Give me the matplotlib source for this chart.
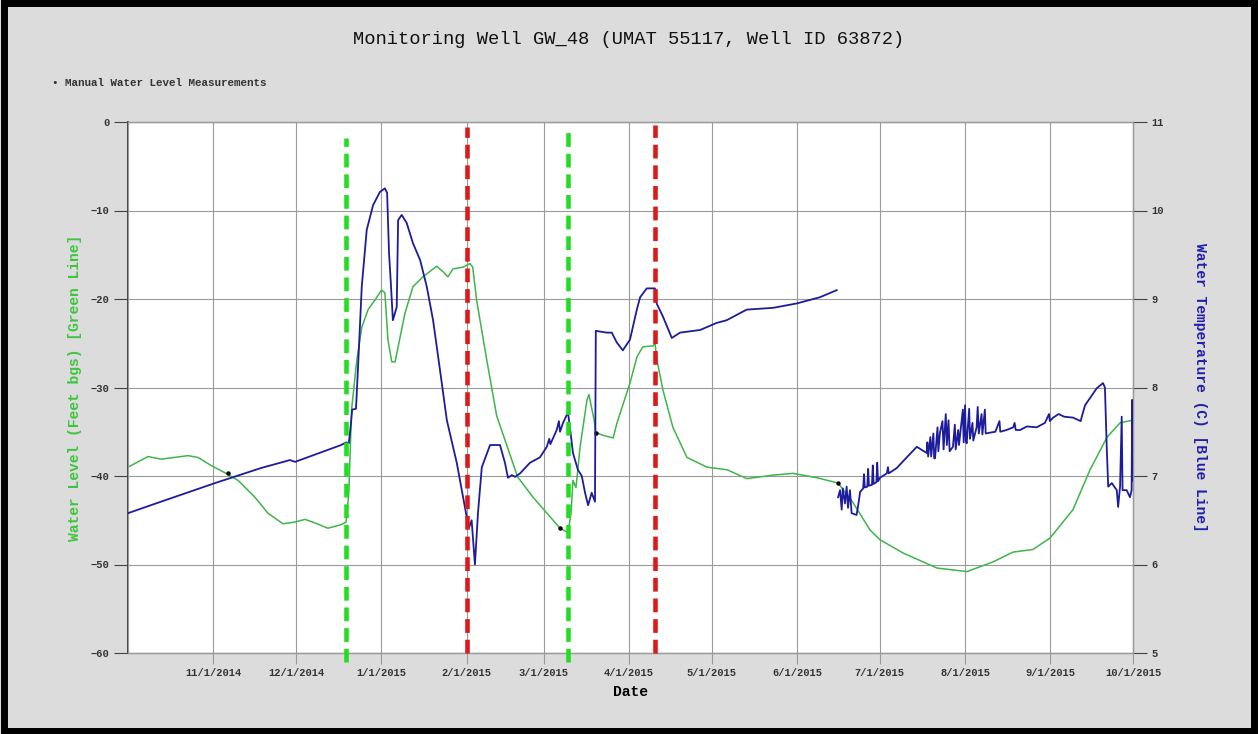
import matplotlib

matplotlib.use("Agg")
import matplotlib.pyplot as plt  # noqa: E402
import matplotlib.patches as mpatches  # noqa: E402
import numpy as np  # noqa: E402
import pandas as pd  # noqa: E402

START = pd.Timestamp("2014-10-01")

# water level (feet bgs), days since 10/1/2014
wl_days = [0, 7.3, 12, 21.8, 25.4, 30.1, 35.6, 40, 46.1, 50.8, 56.3, 60.7, 64.3, 67.9,
           72.6, 77.4, 79.2, 80.2, 81.2, 83.1, 84.9, 87.2, 89.7, 92.1, 93.3, 94.4, 95.8,
           97, 98.1, 100.6, 103.5, 107.1, 112.1, 114.4, 116.2, 118, 121.7, 124.2, 125.2,
           126.6, 130.3, 133.9, 141.5, 147.1, 156.9, 159.8, 160.9, 161.6, 162.7, 164.2,
           166.7, 167.4, 169.3, 169.9, 172.5, 176.2, 177.6, 182.3, 184.9, 187, 190.7,
           191.4, 192.1, 194.3, 197.9, 203, 210.3, 217.6, 224.8, 234.3, 241.5, 250.3,
           257.9, 263.3, 269.5, 273.1, 281.5, 293.8, 304.7, 314.2, 321.4, 328.7, 334.9,
           343.2, 349.4, 355.6, 360.3, 364.7]
wl_vals = [-39.0, -37.8, -38.1, -37.7, -37.9, -38.8, -39.7, -40.5, -42.4, -44.2, -45.4,
           -45.2, -44.9, -45.3, -45.9, -45.5, -45.2, -41.9, -32.5, -26.9, -23.2, -21.2,
           -20.1, -19.0, -19.3, -24.6, -27.1, -27.1, -25.4, -21.6, -18.6, -17.5, -16.3,
           -16.9, -17.5, -16.6, -16.4, -16.0, -16.4, -20.1, -26.9, -33.2, -40.1, -42.4,
           -45.9, -46.4, -44.2, -40.5, -41.3, -36.7, -31.4, -30.8, -33.7, -35.1, -35.4,
           -35.7, -34.0, -29.5, -26.5, -25.4, -25.3, -25.0, -26.9, -30.3, -34.5, -37.9,
           -39.0, -39.3, -40.3, -39.9, -39.7, -40.2, -40.8, -43.0, -46.1, -47.2, -48.7,
           -50.4, -50.8, -49.7, -48.6, -48.3, -47.0, -43.8, -39.3, -35.6, -34.0, -33.7]

# manual water level measurements
man_days = [36.3, 156.9, 170.0, 257.9]
man_vals = [-39.7, -45.9, -35.1, -40.8]

# water temperature (C), days since 10/1/2014 (NaN = data gap)
wt_days = [0, 12, 31.6, 48.3, 58.8, 60.7, 77.4, 79.2, 80.2, 81, 81.4, 82.8, 83.5, 84.9,
           86.7, 89, 91.5, 93.3, 94.1, 94.8, 95.4, 96.2, 97.6, 98.1, 99.4, 101.2, 103.5,
           106.1, 108.5, 110.8, 113.3, 115.8, 119.4, 123, 123.9, 124.8, 126, 127.1, 128.5,
           131.5, 135.1, 136.9, 138, 139.4, 140.6, 142.4, 146, 149.6, 152.1, 153.0, 153.4,
           155.7, 156.5, 156.9, 158, 159.8, 160.5, 161.6, 163.4, 164.8, 166, 167.1, 168.4,
           169.6, 169.9, 173.9, 175.7, 177.5, 179.7, 182.3, 184.8, 186, 188.4, 191.4, 192,
           194.3, 197.5, 200.5, 207.8, 213.8, 217.4, 224.7, 234.3, 242.9, 251.3, 257.4,
           257.6,
           257.9, 258.6, 259.2, 259.6, 260.4, 261.0, 261.5, 262.2, 262.8, 264.6, 265.1,
           265.9, 267.0, 267.3, 267.6, 268.5, 268.8, 269.1, 270.2, 270.5, 270.8, 271.8,
           272.1, 272.4, 273.1, 275.6, 276.0, 276.3, 279.2, 282.8, 286.5, 288.0, 290.1,
           290.3, 290.6, 291.4, 291.7, 292.5, 292.8, 293.1, 294.0, 294.3, 294.9, 295.8,
           296.2, 297.0, 297.4, 298.0, 298.4, 299.6, 300.3, 300.6, 301.5, 301.8, 303.2,
           303.5, 304.0, 304.3, 304.6, 305.5, 305.8, 306.7, 307.0, 308.2, 308.6, 309.0,
           310.0, 310.3, 311.2, 311.5, 313.1, 315.0, 316.5, 316.8, 319.1, 321.5, 322.0,
           322.4, 324.0, 326.5, 330.0, 333.0, 334.5, 334.8, 336.0, 338.0, 340.0, 343.2,
           346.0, 346.4, 347.6, 351.8, 354.1, 354.8, 355.5, 356.0, 357.3, 359.1, 359.6,
           360.3, 360.9, 361.2, 362.7, 363.9, 364.5, 364.7, 365.0]
wt_vals = [6.58, 6.71, 6.92, 7.09, 7.18, 7.16, 7.35, 7.38, 7.37, 7.60, 7.75, 7.76, 8.20,
           9.14, 9.78, 10.06, 10.21, 10.25, 10.20, 9.52, 9.21, 8.76, 8.91, 9.89, 9.95,
           9.86, 9.63, 9.44, 9.14, 8.76, 8.20, 7.63, 7.15, 6.54, 6.42, 6.50, 6.00, 6.58,
           7.10, 7.35, 7.35, 7.15, 6.98, 7.01, 6.99, 7.03, 7.15, 7.21, 7.33, 7.42, 7.36,
           7.52, 7.62, 7.50, 7.60, 7.72, 7.55, 7.26, 7.07, 7.00, 6.81, 6.67, 6.81, 6.71,
           8.64, 8.62, 8.62, 8.51, 8.42, 8.54, 8.88, 9.02, 9.12, 9.12, 8.95, 8.80, 8.56,
           8.62, 8.65, 8.73, 8.76, 8.88, 8.90, 8.95, 9.02, 9.10,
           np.nan,
           6.76, 6.84, 6.62, 6.86, 6.69, 6.88, 6.64, 6.84, 6.58, 6.56, 6.65,
           6.82, 6.86, 7.02, 6.87, 6.88, 7.08, 6.89, 6.90, 7.12, 6.91, 6.93,
           7.15, 6.94, 6.98, 7.03, 7.10, 7.03, 7.09, 7.21, 7.33, 7.30, 7.26,
           7.38, 7.22, 7.44, 7.22, 7.48, 7.20, 7.20, 7.55, 7.28, 7.49, 7.62,
           7.30, 7.70, 7.35, 7.63, 7.28, 7.33, 7.58, 7.30, 7.52, 7.35, 7.75,
           7.38, 7.80, 7.40, 7.37, 7.76, 7.42, 7.60, 7.40, 7.55, 7.78, 7.48,
           7.70, 7.47, 7.75, 7.48, 7.49, 7.50, 7.62, 7.50, 7.52, 7.55, 7.60,
           7.52, 7.52, 7.56, 7.55, 7.60, 7.70, 7.62, 7.66, 7.70, 7.67, 7.66,
           7.62, 7.67, 7.80, 7.99, 8.05, 8.00, 7.29, 6.88, 6.92, 6.84, 6.65,
           6.88, 7.67, 6.84, 6.84, 6.76, 6.84, 7.86, 6.95]

# vertical event markers: (day, colour, y0, y1 in axes fraction)
event_days = [79.2, 123.1, 159.8, 191.4]
event_colors = ["#22dd22", "#dd1a1a", "#22dd22", "#dd1a1a"]
event_y0 = [-0.017, 0.0, -0.017, 0.0]
event_y1 = [0.97, 0.99, 0.981, 0.994]

tick_months = pd.date_range("2014-11-01", "2015-10-01", freq="MS")


def to_dates(days):
    return START + pd.to_timedelta(np.asarray(days, dtype=float), unit="D")


MONO = ["Liberation Mono", "DejaVu Sans Mono"]
BG = "#dcdcdc"
GRID = "#9a9a9a"

fig = plt.figure(figsize=(12.58, 7.34), dpi=100, facecolor=BG)
ax = fig.add_axes([128 / 1258, 81 / 734, 1005 / 1258, 531 / 734])
ax.set_facecolor("white")
ax2 = ax.twinx()

ax.plot(to_dates(wl_days), wl_vals, color="#3fb54a", lw=1.1, zorder=3)
ax.plot(to_dates(man_days), man_vals, "o", color="black", ms=2.2, zorder=4)
ax2.plot(to_dates(wt_days), wt_vals, color="#1c1c9c", lw=1.3, zorder=3)

for d, c, y0, y1 in zip(event_days, event_colors, event_y0, event_y1):
    x = to_dates([d])[0]
    ax2.plot([x, x], [y0, y1], transform=ax2.get_xaxis_transform(), color=c,
             lw=3.3, dashes=(3.0, 1.5), clip_on=False, zorder=6)

ax.set_xlim(START, pd.Timestamp("2015-10-01"))
ax.set_ylim(-60, 0)
ax2.set_ylim(5, 11)
ax.set_xticks(tick_months)
ax.set_xticklabels([f"{d.month}/{d.day}/{d.year}" for d in tick_months])
ax.set_yticks(range(-60, 1, 10))
ax2.set_yticks(range(5, 12))

ax.grid(True, color=GRID, lw=0.8)
ax.set_axisbelow(True)

for a in (ax, ax2):
    for s in a.spines.values():
        s.set_color(GRID)
        s.set_linewidth(0.9)
ax.spines["left"].set_color("#222222")
ax.spines["left"].set_linewidth(1.2)

ax.tick_params(axis="x", direction="out", length=8, color=GRID, labelsize=7.5, pad=3)
ax.tick_params(axis="y", direction="out", length=10, color="#444444", labelsize=7.5)
ax2.tick_params(axis="y", direction="out", length=10, color="#444444", labelsize=7.5)
for lab in ax.get_xticklabels() + ax.get_yticklabels() + ax2.get_yticklabels():
    lab.set_family(MONO)
    lab.set_fontweight("bold")
    lab.set_color("#333333")

ax.set_xlabel("Date", family=MONO, fontweight="bold", fontsize=10.5, labelpad=5)
ax.set_ylabel("Water Level (Feet bgs) [Green Line]", family=MONO, fontweight="bold",
              fontsize=10.5, color="#3fc43f", labelpad=6)
ax2.set_ylabel("Water Temperature (C) [Blue Line]", family=MONO, fontweight="bold",
               fontsize=10.5, color="#2020a8", rotation=270, labelpad=31)

fig.text(0.5, 1 - 40 / 734, "Monitoring Well GW_48 (UMAT 55117, Well ID 63872)",
         family=MONO, fontsize=13.5, ha="center", va="center", color="#111111")
fig.text(52 / 1258, 1 - 83 / 734, "\u2022 Manual Water Level Measurements",
         family=MONO, fontweight="bold", fontsize=7.8, ha="left", va="center",
         color="#333333")

fig.patches.append(mpatches.Rectangle((0.003, 0.004), 0.994, 0.992,
                                      transform=fig.transFigure, fill=False,
                                      ec="black", lw=5))

fig.savefig("out.png", dpi=100, facecolor=BG)
